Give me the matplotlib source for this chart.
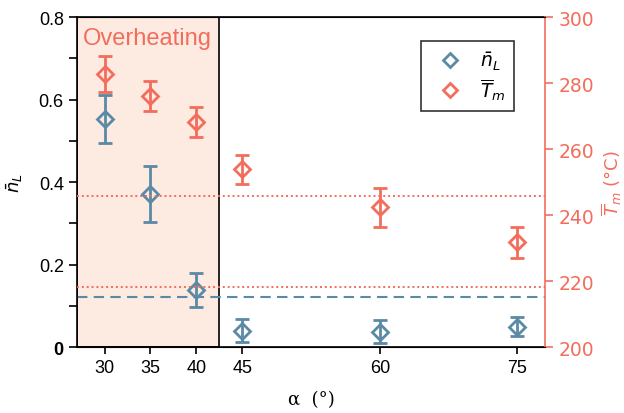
import matplotlib
matplotlib.use('Agg')
import matplotlib.pyplot as plt
from matplotlib.lines import Line2D
import numpy as np

# data
alpha = [30, 35, 40, 45, 60, 75]
n_L = [0.553, 0.371, 0.138, 0.040, 0.037, 0.049]
n_L_err = [0.058, 0.068, 0.041, 0.027, 0.028, 0.023]
T_m = [282.7, 276.1, 268.2, 253.9, 242.3, 231.7]
T_m_err = [5.4, 4.5, 4.5, 4.4, 6.0, 4.7]
n_L_ref = 0.121
T_m_refs = [245.8, 218.2]
overheat_range = (27, 42.5)

blue = '#5a8aa6'
red = '#f26d5c'
shade = '#fdeae1'

plt.rcParams['font.family'] = ['Liberation Sans', 'DejaVu Sans']

fig = plt.figure(figsize=(6.24, 4.14), dpi=100)
ax = fig.add_axes([0.1234, 0.1594, 0.75, 0.7971])
ax2 = ax.twinx()

# overheating region
ax.axvspan(*overheat_range, facecolor=shade, edgecolor='black', linewidth=1.2, zorder=0)
ax.text(27.6, 0.748, 'Overheating', color=red, fontsize=17, va='center', ha='left')

ax.axhline(n_L_ref, color=blue, linestyle=(0, (5, 3)), linewidth=1.5, zorder=1)
for t in T_m_refs:
    ax2.axhline(t, color=red, linestyle=(0, (1, 1.5)), linewidth=1.4, zorder=1)

ax.errorbar(alpha, n_L, yerr=n_L_err, fmt='D', color=blue, mfc='none', mec=blue,
            mew=2, ms=8.5, capsize=5, capthick=2, elinewidth=2, zorder=3)
ax2.errorbar(alpha, T_m, yerr=T_m_err, fmt='D', color=red, mfc='none', mec=red,
             mew=2, ms=8.5, capsize=5, capthick=2, elinewidth=2, zorder=3)

ax.set_xlim(27, 78)
ax.set_ylim(0, 0.8)
ax2.set_ylim(200, 300)

ax.set_xticks(alpha)
ax.set_xticklabels([str(a) for a in alpha])
ax.set_yticks([0, 0.2, 0.4, 0.6, 0.8])
ax.set_yticklabels(['0', '0.2', '0.4', '0.6', '0.8'])
ax.set_yticks([0.1, 0.3, 0.5, 0.7], minor=True)
ax.tick_params(axis='both', which='both', direction='out', length=6, width=1.2, labelsize=13)
ax.tick_params(axis='x', which='both', length=5)
ax.get_yticklabels()[0].set_fontweight('bold')

ax2.set_yticks([200, 220, 240, 260, 280, 300])
ax2.tick_params(axis='y', colors=red, direction='out', length=6, width=1.2, labelsize=13.5)
for lab in ax2.get_yticklabels():
    lab.set_family('DejaVu Sans')
ax2.spines['right'].set_color(red)
ax2.spines['right'].set_linewidth(1.2)
ax2.spines['left'].set_visible(False)
for s in ['left', 'bottom', 'top']:
    ax.spines[s].set_linewidth(1.2)
ax.spines['right'].set_visible(False)

ax.set_xlabel('α  (°)', fontsize=13, family='DejaVu Serif', labelpad=10)
ax.set_ylabel(r'$\bar{n}_L$', fontsize=13, labelpad=10)
ax2.set_ylabel(r'$\overline{T}_m$ (°C)', fontsize=13, color=red, family='DejaVu Sans', labelpad=4)

handles = [
    Line2D([], [], marker='D', linestyle='none', mfc='none', mec=blue, mew=2, ms=7),
    Line2D([], [], marker='D', linestyle='none', mfc='none', mec=red, mew=2, ms=7),
]
leg = ax.legend(handles, [r'$\bar{n}_L$', r'$\overline{T}_m$'], loc='upper left',
                bbox_to_anchor=(0.735, 0.927), fontsize=13.5, frameon=True,
                fancybox=False, edgecolor='black', handletextpad=0.5,
                borderpad=0.45, labelspacing=0.25, handlelength=2.2,
                borderaxespad=0)
leg.get_frame().set_linewidth(1.2)

fig.savefig('out.png', dpi=100)
